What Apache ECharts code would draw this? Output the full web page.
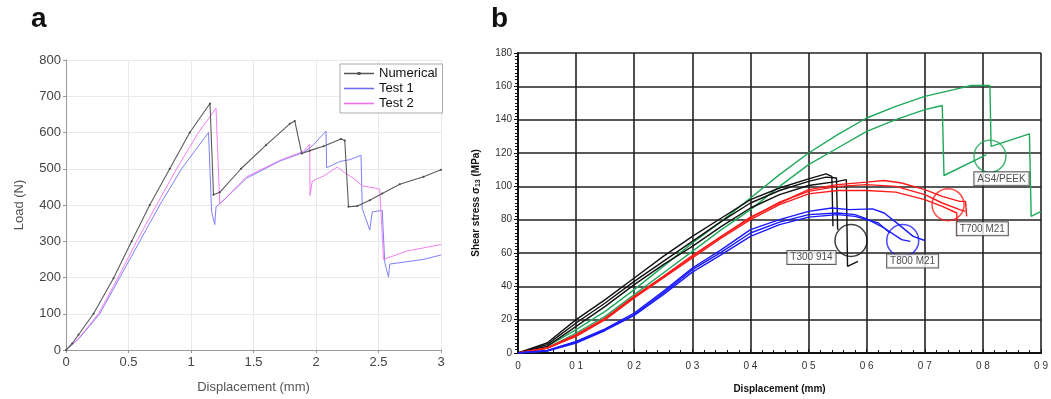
<!DOCTYPE html>
<html>
<head>
<meta charset="utf-8">
<title>Load and shear stress vs displacement</title>
<script src="https://cdn.jsdelivr.net/npm/echarts@6/dist/echarts.min.js"></script>
<style>
  html, body { margin: 0; padding: 0; background: #fff; }
  #chart { width: 1051px; height: 399px; }
</style>
</head>
<body>
<div id="chart"></div>
<script>
// panel a: load (N) vs displacement (mm)
var numerical = [[0, 0], [0.05, 18], [0.1, 42], [0.22, 100], [0.38, 198], [0.525, 300], [0.67, 400], [0.83, 500], [0.99, 600], [1.152, 680], [1.18, 428], [1.23, 435], [1.4, 500], [1.6, 565], [1.79, 624], [1.83, 632], [1.886, 542], [1.95, 550], [2.06, 562], [2.2, 582], [2.23, 578], [2.26, 395], [2.33, 397], [2.43, 413], [2.53, 432], [2.67, 457], [2.86, 478], [3, 497]]
var test1 = [[0, 0], [0.1, 30], [0.27, 100], [0.43, 200], [0.59, 300], [0.75, 400], [0.925, 500], [1.14, 600], [1.165, 381], [1.19, 346], [1.2, 395], [1.23, 403], [1.445, 474], [1.71, 521], [1.9, 545], [1.98, 566], [2.08, 604], [2.085, 503], [2.13, 510], [2.19, 520], [2.27, 525], [2.36, 537], [2.37, 390], [2.43, 331], [2.45, 381], [2.53, 385], [2.55, 241], [2.58, 201], [2.59, 237], [2.86, 250], [3, 262]]
var test2 = [[0, 0], [0.1, 32], [0.26, 100], [0.417, 200], [0.565, 300], [0.725, 400], [0.885, 500], [1.06, 600], [1.2, 667], [1.23, 403], [1.445, 478], [1.71, 523], [1.9, 548], [1.95, 568], [1.952, 426], [1.97, 466], [2.06, 480], [2.17, 505], [2.23, 489], [2.31, 471], [2.37, 453], [2.43, 449], [2.51, 444], [2.54, 250], [2.73, 273], [3, 291]]

// panel b: shear stress (MPa) vs displacement (mm)
var as4Peek1 = [[0, 0], [0.05, 4], [0.1, 14], [0.15, 25], [0.2, 38], [0.25, 52], [0.3, 66], [0.35, 79], [0.4, 93], [0.45, 107], [0.5, 120], [0.55, 131], [0.6, 141], [0.65, 148], [0.7, 154], [0.75, 158], [0.78, 160.5], [0.812, 160.5], [0.814, 124], [0.88, 131.5], [0.883, 82], [0.9, 85]]
var as4Peek2 = [[0, 0], [0.05, 3], [0.1, 12], [0.15, 22], [0.2, 35], [0.25, 48], [0.3, 61], [0.35, 74], [0.4, 86], [0.45, 100], [0.5, 113], [0.55, 123], [0.6, 133], [0.65, 140], [0.7, 146], [0.73, 148.5], [0.733, 106.5], [0.8, 118], [0.806, 119]]
var t300a = [[0, 0], [0.05, 6], [0.1, 20], [0.15, 32], [0.2, 45], [0.25, 58], [0.3, 70], [0.35, 81], [0.4, 92], [0.45, 99], [0.5, 104.5], [0.53, 107.5], [0.54, 106], [0.542, 76]]
var t300b = [[0, 0], [0.05, 5], [0.1, 18], [0.15, 30], [0.2, 43], [0.25, 55], [0.3, 67], [0.35, 79], [0.4, 90], [0.45, 97.5], [0.5, 103], [0.53, 105.5], [0.548, 105], [0.55, 74]]
var t300c = [[0, 0], [0.05, 4], [0.1, 16], [0.15, 28], [0.2, 41], [0.25, 53], [0.3, 64], [0.35, 76], [0.4, 87], [0.45, 95], [0.5, 100.5], [0.55, 103], [0.565, 104], [0.567, 52], [0.585, 55]]
var t700a = [[0, 0], [0.05, 3], [0.1, 11], [0.15, 21], [0.2, 34], [0.25, 46], [0.3, 58.5], [0.35, 70], [0.4, 81.5], [0.45, 90], [0.5, 98], [0.55, 101], [0.6, 102.5], [0.63, 103.5], [0.66, 102], [0.7, 98], [0.73, 94], [0.76, 91], [0.77, 91], [0.772, 82]]
var t700b = [[0, 0], [0.05, 3], [0.1, 10.5], [0.15, 20.5], [0.2, 33.5], [0.25, 45.5], [0.3, 58], [0.35, 70], [0.4, 81], [0.45, 90.5], [0.5, 97], [0.55, 100], [0.6, 101], [0.65, 100], [0.7, 95], [0.73, 90], [0.76, 86], [0.77, 85]]
var t700c = [[0, 0], [0.05, 2.8], [0.1, 10], [0.15, 20], [0.2, 33], [0.25, 45], [0.3, 57], [0.35, 69], [0.4, 80], [0.45, 89], [0.5, 95.5], [0.55, 97.5], [0.6, 97.5], [0.65, 96.5], [0.7, 92], [0.73, 88], [0.755, 84], [0.756, 70]]
var t800a = [[0, 0], [0.05, 1.5], [0.1, 7], [0.15, 14.5], [0.2, 24], [0.25, 37], [0.3, 51], [0.35, 62], [0.4, 74], [0.45, 80], [0.5, 85], [0.54, 87], [0.57, 86], [0.61, 86.5], [0.63, 84], [0.65, 78.5], [0.68, 70], [0.7, 67.5]]
var t800b = [[0, 0], [0.05, 1.3], [0.1, 6.5], [0.15, 14], [0.2, 23], [0.25, 36], [0.3, 50], [0.35, 60.5], [0.4, 72], [0.45, 78.5], [0.5, 83], [0.55, 84], [0.58, 83], [0.6, 80.5], [0.63, 75], [0.66, 68], [0.675, 67]]
var t800c = [[0, 0], [0.05, 1.2], [0.1, 6], [0.15, 13.5], [0.2, 22.5], [0.25, 35], [0.3, 48.5], [0.35, 59], [0.4, 70], [0.45, 77], [0.5, 81.5], [0.55, 83], [0.58, 82], [0.6, 80], [0.62, 78], [0.64, 72]]

// material annotations on panel b: circle centre and label box position
var noteNames = ['T300 914', 'T800 M21', 'T700 M21', 'AS4/PEEK']
var noteCircles = [[0.573, 67.5], [0.662, 67.5], [0.74, 89], [0.812, 118]]
var noteLabels = [[0.505, 57.3], [0.679, 55.2], [0.799, 74.5], [0.832, 104.5]]
var noteColors = ['#111', '#1a1aff', '#ff1a1a', '#1fa85a']

var xTicksA = ['0', '0.5', '1', '1.5', '2', '2.5', '3']
var xTicksB = ['0', '0 1', '0 2', '0 3', '0 4', '0 5', '0 6', '0 7', '0 8', '0 9']

var chart = echarts.init(document.getElementById('chart'))
var font = 'Liberation Sans, Arial, sans-serif'
var lineIcon = 'path://M0,1.2 L30,1.2 L30,2.8 L0,2.8 Z'
var dotLineIcon = 'path://M0,1.3 L30,1.3 L30,2.7 L0,2.7 Z M13.5,0.5 L16.5,0.5 L16.5,3.5 L13.5,3.5 Z'

function curveB (name, data, color) {
  return {
    name: name,
    type: 'line',
    xAxisIndex: 1,
    yAxisIndex: 1,
    data: data,
    showSymbol: false,
    silent: true,
    lineStyle: { color: color, width: 1.4 },
    z: 3
  }
}

var seriesB = [
  curveB('AS4/PEEK 1', as4Peek1, noteColors[3]),
  curveB('AS4/PEEK 2', as4Peek2, noteColors[3]),
  curveB('T300 914 1', t300a, noteColors[0]),
  curveB('T300 914 2', t300b, noteColors[0]),
  curveB('T300 914 3', t300c, noteColors[0]),
  curveB('T700 M21 1', t700a, noteColors[2]),
  curveB('T700 M21 2', t700b, noteColors[2]),
  curveB('T700 M21 3', t700c, noteColors[2]),
  curveB('T800 M21 1', t800a, noteColors[1]),
  curveB('T800 M21 2', t800b, noteColors[1]),
  curveB('T800 M21 3', t800c, noteColors[1])
]

seriesB.push({
  name: 'circles',
  type: 'scatter',
  xAxisIndex: 1,
  yAxisIndex: 1,
  symbol: 'circle',
  symbolSize: 32,
  silent: true,
  z: 4,
  data: noteCircles.map(function (p, i) {
    return { value: p, itemStyle: { color: 'rgba(0,0,0,0)', borderColor: noteColors[i], borderWidth: 1.5 } }
  })
})

seriesB.push({
  name: 'notes',
  type: 'scatter',
  xAxisIndex: 1,
  yAxisIndex: 1,
  symbolSize: 0,
  silent: true,
  z: 5,
  data: noteLabels.map(function (p, i) {
    return { value: p, name: noteNames[i] }
  }),
  label: {
    show: true,
    position: 'inside',
    formatter: '{b}',
    fontFamily: font,
    fontSize: 10,
    color: '#222',
    backgroundColor: '#fff',
    borderColor: '#333',
    borderWidth: 1,
    padding: [2, 3, 1, 3]
  }
})

chart.setOption({
  animation: false,
  textStyle: { fontFamily: font },
  title: [
    { text: 'a', left: 26, top: 0, textStyle: { fontSize: 28, fontWeight: 'bold', color: '#111', fontFamily: font } },
    { text: 'b', left: 486, top: 0, textStyle: { fontSize: 28, fontWeight: 'bold', color: '#111', fontFamily: font } }
  ],
  legend: {
    data: [
      { name: 'Numerical', icon: dotLineIcon, itemStyle: { color: '#555' } },
      { name: 'Test 1', icon: lineIcon, itemStyle: { color: '#6f6ff5' } },
      { name: 'Test 2', icon: lineIcon, itemStyle: { color: '#ee6fee' } }
    ],
    orient: 'vertical',
    left: 340,
    top: 64,
    itemWidth: 30,
    itemHeight: 4,
    itemGap: 2,
    padding: [3, 5, 3, 4],
    backgroundColor: '#fff',
    borderColor: '#aaa',
    borderWidth: 1,
    textStyle: { fontSize: 13, color: '#111', fontFamily: font }
  },
  grid: [
    { left: 66, top: 60, width: 375, height: 296 },
    { left: 518, top: 53, width: 524, height: 302 }
  ],
  xAxis: [
    {
      gridIndex: 0,
      type: 'value',
      min: 0,
      max: 3,
      interval: 0.5,
      name: 'Displacement (mm)',
      nameLocation: 'middle',
      nameGap: 31,
      nameTextStyle: { fontSize: 13, color: '#555' },
      axisLine: { lineStyle: { color: '#999' } },
      axisTick: { length: 3, lineStyle: { color: '#999' } },
      axisLabel: {
        fontSize: 13,
        color: '#444',
        margin: 6,
        formatter: function (v) { return xTicksA[Math.round(v * 2)] }
      },
      splitLine: { lineStyle: { color: '#e9e9e9' } }
    },
    {
      gridIndex: 1,
      type: 'value',
      min: 0,
      max: 0.9,
      interval: 0.1,
      name: 'Displacement (mm)',
      nameLocation: 'middle',
      nameGap: 31,
      nameTextStyle: { fontSize: 10, fontWeight: 'bold', color: '#111' },
      axisLine: { lineStyle: { color: '#111', width: 2 } },
      axisTick: { inside: true, length: 4, lineStyle: { color: '#111' } },
      minorTick: { show: true, splitNumber: 5, length: 3, lineStyle: { color: '#111' } },
      axisLabel: {
        fontSize: 10,
        color: '#333',
        margin: 8,
        formatter: function (v) { return xTicksB[Math.round(v * 10)] }
      },
      splitLine: { lineStyle: { color: '#222', width: 1.6 } }
    }
  ],
  yAxis: [
    {
      gridIndex: 0,
      type: 'value',
      min: 0,
      max: 800,
      interval: 100,
      name: 'Load (N)',
      nameLocation: 'middle',
      nameGap: 40,
      nameTextStyle: { fontSize: 13, color: '#555' },
      axisLine: { show: true, lineStyle: { color: '#999' } },
      axisTick: { show: true, length: 3, lineStyle: { color: '#999' } },
      axisLabel: { fontSize: 13, color: '#444', margin: 5 },
      splitLine: { lineStyle: { color: '#e9e9e9' } }
    },
    {
      gridIndex: 1,
      type: 'value',
      min: 0,
      max: 180,
      interval: 20,
      name: '{t|Shear stress σ}{s|13}{t| (MPa)}',
      nameLocation: 'middle',
      nameGap: 36,
      nameTextStyle: {
        rich: {
          t: { fontSize: 10, fontWeight: 'bold', color: '#111', fontFamily: font },
          s: { fontSize: 7, fontWeight: 'bold', color: '#111', fontFamily: font, verticalAlign: 'bottom', padding: [4, 0, 0, 0] }
        }
      },
      axisLine: { show: true, lineStyle: { color: '#111', width: 2 } },
      axisTick: { show: true, length: 4, lineStyle: { color: '#111' } },
      minorTick: { show: true, splitNumber: 10, length: 3, lineStyle: { color: '#111' } },
      axisLabel: { fontSize: 10, color: '#333', margin: 6 },
      splitLine: { lineStyle: { color: '#222', width: 1.6 } }
    }
  ],
  series: [
    {
      name: 'Numerical',
      type: 'line',
      data: numerical,
      symbol: 'circle',
      symbolSize: 2,
      showSymbol: true,
      itemStyle: { color: '#444' },
      lineStyle: { color: '#5a5a5a', width: 1.1 },
      z: 4
    },
    {
      name: 'Test 1',
      type: 'line',
      data: test1,
      showSymbol: false,
      itemStyle: { color: '#7f7ff5' },
      lineStyle: { color: '#7f7ff5', width: 1 },
      z: 3
    },
    {
      name: 'Test 2',
      type: 'line',
      data: test2,
      showSymbol: false,
      itemStyle: { color: '#f07ff0' },
      lineStyle: { color: '#f07ff0', width: 1 },
      z: 3
    }
  ].concat(seriesB)
})
</script>
</body>
</html>
